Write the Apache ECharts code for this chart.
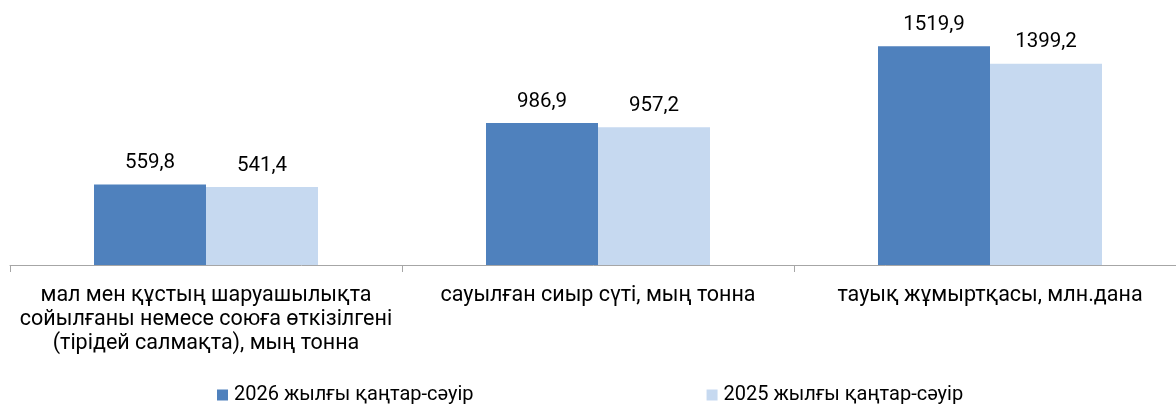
<!DOCTYPE html>
<html>
<head>
<meta charset="utf-8">
<script src="https://cdn.jsdelivr.net/npm/echarts@6/dist/echarts.min.js"></script>
<style>
  html, body { margin: 0; padding: 0; background: #fff; }
  #main { width: 1176px; height: 406px; }
</style>
</head>
<body>
<div id="main"></div>
<script>
const categories = [
  'мал мен құстың шаруашылықта\nсойылғаны немесе союға өткізілгені\n(тірідей салмақта), мың тонна',
  'сауылған сиыр сүті, мың тонна',
  'тауық жұмыртқасы, млн.дана'
];
const values2026 = [559.8, 986.9, 1519.9];
const values2025 = [541.4, 957.2, 1399.2];
const seriesNames = ['2026 жылғы қаңтар-сәуір', '2025 жылғы қаңтар-сәуір'];

// подписи с запятой вместо точки
const fmt = p => String(p.value).replace('.', ',');

let myChart = echarts.init(document.getElementById('main'));
myChart.setOption({
  animation: false,
  textStyle: { fontFamily: 'Roboto' },
  grid: { left: 10, top: 6, right: -10, height: 259, outerBoundsMode: 'none', containLabel: false },
  legend: {
    left: 212,
    top: 380,
    itemGap: 233,
    itemWidth: 11,
    itemHeight: 11,
    icon: 'rect',
    textStyle: { fontSize: 20, color: '#000', padding: [0, 0, 0, 1] },
    data: seriesNames
  },
  xAxis: {
    type: 'category',
    data: categories,
    axisLine: { lineStyle: { color: '#a6a6a6', width: 1 } },
    axisTick: { show: true, length: 7, lineStyle: { color: '#a6a6a6' } },
    axisLabel: {
      interval: 0,
      margin: 19,
      fontSize: 21.5,
      color: '#000',
      lineHeight: 24
    }
  },
  yAxis: {
    type: 'value',
    min: 0,
    max: 1800,
    show: false,
    splitLine: { show: false }
  },
  series: [
    {
      name: seriesNames[0],
      type: 'bar',
      data: values2026,
      barWidth: 112,
      barGap: '0%',
      itemStyle: { color: '#4f81bd' },
      label: { show: true, position: 'top', distance: 11, fontSize: 20.5, color: '#000', formatter: fmt }
    },
    {
      name: seriesNames[1],
      type: 'bar',
      data: values2025,
      barWidth: 112,
      itemStyle: { color: '#c6d9f0' },
      label: { show: true, position: 'top', distance: 11, fontSize: 20.5, color: '#000', formatter: fmt }
    }
  ]
});
</script>
</body>
</html>
